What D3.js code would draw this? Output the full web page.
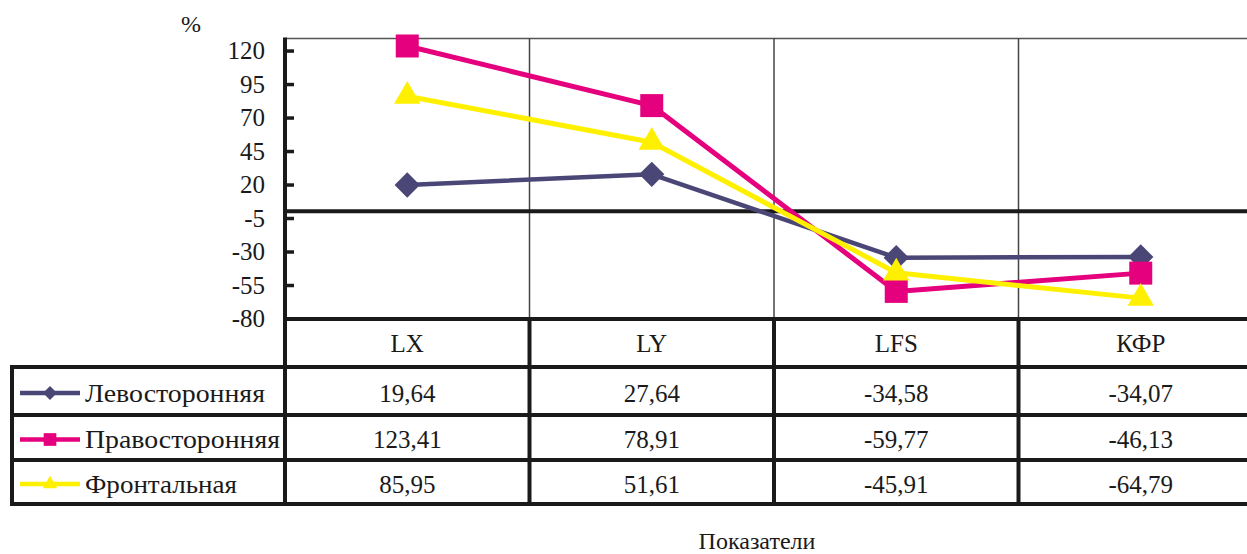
<!DOCTYPE html>
<html lang="ru">
<head>
<meta charset="utf-8">
<script src="https://cdn.jsdelivr.net/npm/d3@7"></script>
<style>
  html, body { margin: 0; padding: 0; background: #fff; }
  svg { display: block; }
  svg text { font-family: "Liberation Serif", Tinos, "Times New Roman", "DejaVu Serif", serif; }
</style>
</head>
<body>
<svg id="chart" width="1247" height="554"></svg>
<script>
// Indicators along the horizontal axis
const categories = ["LX", "LY", "LFS", "КФР"];

// Series names (legend / table row labels)
const seriesNames = ["Левосторонняя", "Правосторонняя", "Фронтальная"];

// Values per series, in %
const leftSided  = [19.64, 27.64, -34.58, -34.07];
const rightSided = [123.41, 78.91, -59.77, -46.13];
const frontal    = [85.95, 51.61, -45.91, -64.79];

// Y axis tick values
const yTicks = [120, 95, 70, 45, 20, -5, -30, -55, -80];

const seriesValues = [leftSided, rightSided, frontal];
const seriesColors = ["#4a4777", "#e5007e", "#fff000"];
const seriesShapes = ["diamond", "square", "triangle"];

const svg = d3.select("#chart");
const W = 1247, H = 554;
const serif = "'Liberation Serif', Tinos, 'Times New Roman', 'DejaVu Serif', serif";

const plot = { left: 285, right: 1263, top: 38.5, bottom: 318.5 };
const table = { left: 12, header: 319, rows: [367, 415, 460, 504] };

const x = d3.scaleBand().domain(categories).range([plot.left, plot.right]);
const y = d3.scaleLinear().domain([-80, 129]).range([plot.bottom, plot.top]);

const fmt = v => String(v.toFixed(2)).replace(".", ",");

// Plot frame: top border and vertical category gridlines
svg.append("line")
  .attr("x1", plot.left).attr("x2", W)
  .attr("y1", plot.top).attr("y2", plot.top)
  .attr("stroke", "#555").attr("stroke-width", 1.5);

svg.append("g").selectAll("line")
  .data(categories.slice(1))
  .join("line")
  .attr("x1", d => x(d)).attr("x2", d => x(d))
  .attr("y1", plot.top).attr("y2", plot.bottom)
  .attr("stroke", "#444").attr("stroke-width", 1.5);

// Zero line
svg.append("line")
  .attr("x1", plot.left).attr("x2", W)
  .attr("y1", y(0)).attr("y2", y(0))
  .attr("stroke", "#1a1a1a").attr("stroke-width", 4);

// Y axis
const yAxis = d3.axisLeft(y).tickValues(yTicks).tickSize(0).tickPadding(20)
  .tickFormat(d => String(d));
const gy = svg.append("g").attr("transform", `translate(${plot.left},0)`).call(yAxis);
gy.attr("font-family", serif);
gy.select(".domain").remove();
gy.selectAll("text")
  .attr("font-family", serif)
  .attr("font-size", 25).attr("fill", "#1a1a1a");
gy.selectAll(".tick").append("line")
  .attr("x1", 0).attr("x2", 9).attr("stroke", "#1a1a1a").attr("stroke-width", 3.5);

svg.append("line")
  .attr("x1", plot.left).attr("x2", plot.left)
  .attr("y1", plot.top - 1).attr("y2", table.rows[3] + 2)
  .attr("stroke", "#1a1a1a").attr("stroke-width", 4);

svg.append("text")
  .attr("x", 191).attr("y", 32)
  .attr("text-anchor", "middle")
  .attr("font-size", 24).attr("fill", "#1a1a1a")
  .text("%");

// Marker drawing
function markerPath(shape, scale) {
  if (shape === "square") return d3.symbol(d3.symbolSquare, 529 * scale * scale)();
  if (shape === "triangle") return d3.symbol(d3.symbolTriangle, 300 * scale * scale)();
  return d3.symbol(d3.symbolSquare, 320 * scale * scale)();
}
function markerRotate(shape) { return shape === "diamond" ? 45 : 0; }

const line = d3.line()
  .x((d, i) => x(categories[i]) + x.bandwidth() / 2)
  .y(d => y(d));

seriesValues.forEach((vals, s) => {
  const g = svg.append("g");
  g.append("path")
    .attr("d", line(vals))
    .attr("fill", "none")
    .attr("stroke", seriesColors[s])
    .attr("stroke-width", s === 0 ? 4.5 : 5)
    .attr("stroke-linejoin", "round");
  g.selectAll("path.mk")
    .data(vals)
    .join("path")
    .attr("class", "mk")
    .attr("d", markerPath(seriesShapes[s], 1))
    .attr("transform", (d, i) =>
      `translate(${x(categories[i]) + x.bandwidth() / 2},${y(d)}) rotate(${markerRotate(seriesShapes[s])})`)
    .attr("fill", seriesColors[s]);
});

// Data table
const tb = svg.append("g");
const hLines = [
  { y: table.header, x1: plot.left, x2: W },
  { y: table.rows[0], x1: table.left, x2: W },
  { y: table.rows[1], x1: table.left, x2: W },
  { y: table.rows[2], x1: table.left, x2: W },
  { y: table.rows[3], x1: table.left, x2: W }
];
tb.selectAll("line.h").data(hLines).join("line")
  .attr("class", "h")
  .attr("x1", d => d.x1 - 2).attr("x2", d => d.x2)
  .attr("y1", d => d.y).attr("y2", d => d.y)
  .attr("stroke", "#1a1a1a").attr("stroke-width", 4);

tb.append("line")
  .attr("x1", table.left).attr("x2", table.left)
  .attr("y1", table.rows[0] - 2).attr("y2", table.rows[3] + 2)
  .attr("stroke", "#1a1a1a").attr("stroke-width", 4);

tb.selectAll("line.v").data(categories.slice(1)).join("line")
  .attr("class", "v")
  .attr("x1", d => x(d)).attr("x2", d => x(d))
  .attr("y1", table.header).attr("y2", table.rows[3] + 2)
  .attr("stroke", "#1a1a1a").attr("stroke-width", 4);

// Header labels
tb.selectAll("text.hd").data(categories).join("text")
  .attr("class", "hd")
  .attr("x", d => x(d) + x.bandwidth() / 2)
  .attr("y", (table.header + table.rows[0]) / 2)
  .attr("dy", "0.35em")
  .attr("text-anchor", "middle")
  .attr("font-size", 25).attr("fill", "#1a1a1a")
  .text(d => d);

// Rows: legend key + values
const legendTextWidths = [180, 195, 152];
seriesNames.forEach((name, s) => {
  const cy = (table.rows[s] + table.rows[s + 1]) / 2 + 2;
  const row = tb.append("g");
  row.append("line")
    .attr("x1", 20).attr("x2", 80).attr("y1", cy).attr("y2", cy)
    .attr("stroke", seriesColors[s]).attr("stroke-width", 4.5);
  row.append("path")
    .attr("d", markerPath(seriesShapes[s], 0.55))
    .attr("transform", `translate(50,${cy}) rotate(${markerRotate(seriesShapes[s])})`)
    .attr("fill", seriesColors[s]);
  row.append("text")
    .attr("x", 85).attr("y", cy).attr("dy", "0.35em")
    .attr("font-size", 25).attr("fill", "#1a1a1a")
    .attr("textLength", legendTextWidths[s]).attr("lengthAdjust", "spacingAndGlyphs")
    .text(name);
  row.selectAll("text.val").data(seriesValues[s]).join("text")
    .attr("class", "val")
    .attr("x", (d, i) => x(categories[i]) + x.bandwidth() / 2)
    .attr("y", cy).attr("dy", "0.35em")
    .attr("text-anchor", "middle")
    .attr("font-size", 25).attr("fill", "#1a1a1a")
    .text(d => fmt(d));
});

// Horizontal axis title
svg.append("text")
  .attr("x", 757).attr("y", 549)
  .attr("text-anchor", "middle")
  .attr("font-size", 24).attr("fill", "#1a1a1a")
  .text("Показатели");
</script>
</body>
</html>
